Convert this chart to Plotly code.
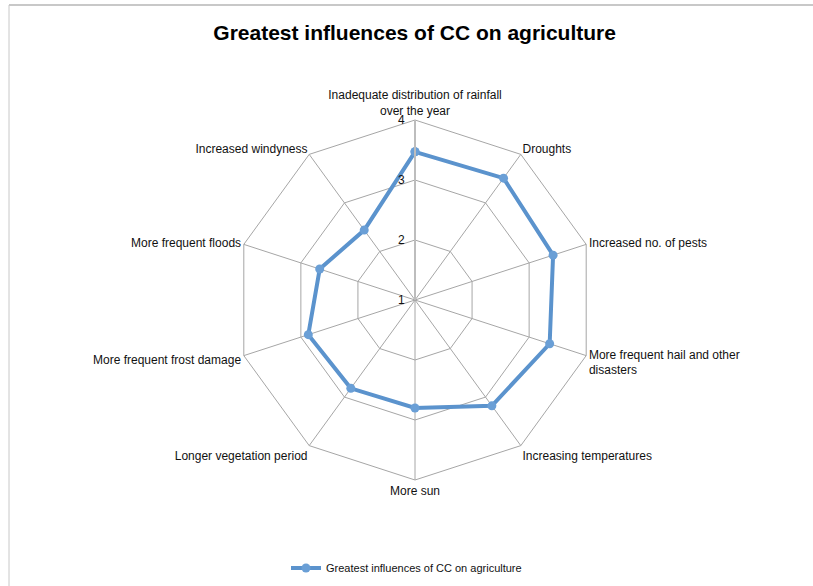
import plotly.graph_objects as go

categories = [
    "Inadequate distribution of rainfall<br>over the year",
    "Droughts",
    "Increased no. of pests",
    "More frequent hail and other<br>disasters",
    "Increasing temperatures",
    "More sun",
    "Longer vegetation period",
    "More frequent frost damage",
    "More frequent floods",
    "Increased windyness",
]
values = [3.47, 3.51, 3.42, 3.36, 3.18, 2.8, 2.82, 2.87, 2.67, 2.44]
series_name = "Greatest influences of CC on agriculture"
radial_ticks = [1, 2, 3, 4]

W, H = 813, 586
cx, cy, rad = 415, 300, 180

fig = go.Figure()
fig.add_trace(
    go.Scatterpolar(
        r=values + values[:1],
        theta=categories + categories[:1],
        mode="lines+markers",
        name=series_name,
        line={"color": "#5b93cd", "width": 4},
        marker={"color": "#6a9fd6", "size": 9},
    )
)

fig.update_layout(
    width=W,
    height=H,
    margin={"l": 0, "r": 0, "t": 0, "b": 0},
    paper_bgcolor="white",
    font={"family": "Liberation Sans, Arial", "size": 12, "color": "#111111"},
    title={
        "text": "<b>" + series_name + "</b>",
        "x": 0.51,
        "xanchor": "center",
        "y": 1 - 33 / H,
        "yanchor": "middle",
        "font": {"size": 21, "family": "Liberation Sans, Arial", "color": "#000000"},
    },
    polar={
        "domain": {
            "x": [(cx - rad) / W, (cx + rad) / W],
            "y": [(H - cy - rad) / H, (H - cy + rad) / H],
        },
        "gridshape": "linear",
        "bgcolor": "white",
        "radialaxis": {
            "range": [1, 4],
            "tickvals": radial_ticks,
            "angle": 90,
            "tickangle": 90,
            "side": "counterclockwise",
            "showline": True,
            "linecolor": "#bdbdbd",
            "linewidth": 2,
            "gridcolor": "#a6a6a6",
            "gridwidth": 1,
            "ticks": "outside",
            "ticklen": 5,
            "tickcolor": "rgba(0,0,0,0)",
            "tickfont": {"size": 12},
        },
        "angularaxis": {
            "rotation": 90,
            "direction": "clockwise",
            "gridcolor": "#a6a6a6",
            "linecolor": "#a6a6a6",
            "linewidth": 1,
            "ticks": "",
            "tickfont": {"size": 12},
        },
    },
    showlegend=True,
    legend={
        "orientation": "h",
        "x": 0.5,
        "xanchor": "center",
        "y": 1 - 568 / H,
        "yanchor": "middle",
        "font": {"size": 11},
    },
)

# chart border (top and left edges visible in the reference)
fig.add_shape(type="line", xref="paper", yref="paper",
              x0=9 / W, x1=1, y0=1 - 5 / H, y1=1 - 5 / H,
              line={"color": "#c8c8c8", "width": 2})
fig.add_shape(type="line", xref="paper", yref="paper",
              x0=9 / W, x1=9 / W, y0=0, y1=1 - 5 / H,
              line={"color": "#c8c8c8", "width": 1})

# drop the default page margin so the figure sits at the window origin
fig.write_html(
    "out.html",
    config={"displayModeBar": False},
    post_script="document.body.style.margin='0';",
)
